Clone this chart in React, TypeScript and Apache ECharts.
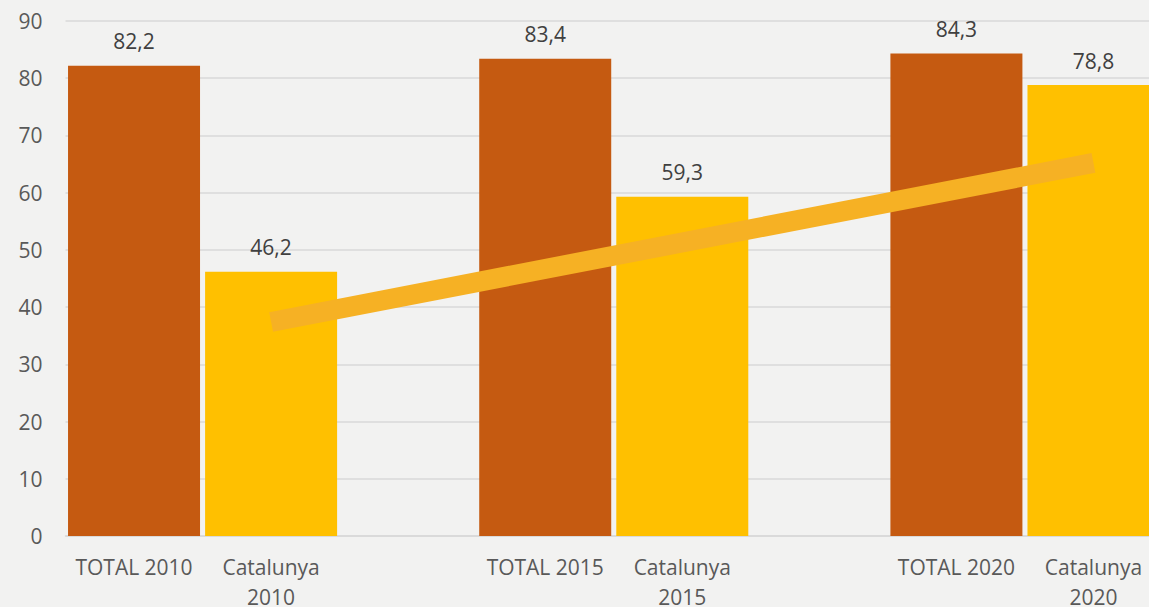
import React, { useEffect, useRef } from "react";
import * as echarts from "echarts";

const categories = [
  "TOTAL 2010",
  "Catalunya\n2010",
  "",
  "TOTAL 2015",
  "Catalunya\n2015",
  "",
  "TOTAL 2020",
  "Catalunya\n2020",
];
const totalValues = [82.2, "-", "-", 83.4, "-", "-", 84.3, "-"];
const catalunyaValues = ["-", 46.2, "-", "-", 59.3, "-", "-", 78.8];
const trendValues = ["-", 37.4, "-", "-", "-", "-", "-", 65.2];
const yTicks = { min: 0, max: 90, interval: 10 };

const FONT = "'Open Sans', sans-serif";

export default function App() {
  const ref = useRef<HTMLDivElement>(null);
  useEffect(() => {
    if (!ref.current) return;
    const chart = echarts.init(ref.current, null, { renderer: "svg" });
    const labelCfg = {
      show: true,
      position: "top",
      distance: 14,
      fontSize: 21,
      fontFamily: FONT,
      color: "#404040",
      formatter: (p: any) => String(p.value).replace(".", ","),
    };
    chart.setOption({
      animation: false,
      backgroundColor: "#F2F2F1",
      grid: {
        left: 65.5,
        right: 0,
        top: 21,
        bottom: 71,
        containLabel: false,
        outerBoundsMode: "none",
      },
      xAxis: {
        type: "category",
        data: categories,
        axisLine: { show: true, lineStyle: { color: "#D9D9D9", width: 1.5 } },
        axisTick: { show: false },
        axisLabel: {
          fontSize: 21,
          fontFamily: FONT,
          color: "#595959",
          lineHeight: 30,
          margin: 16,
          interval: 0,
        },
      },
      yAxis: {
        type: "value",
        min: yTicks.min,
        max: yTicks.max,
        interval: yTicks.interval,
        axisLine: { show: false },
        axisTick: { show: false },
        axisLabel: { fontSize: 21, fontFamily: FONT, color: "#595959", margin: 23 },
        splitLine: { lineStyle: { color: "#D9D9D9", width: 1.5 } },
      },
      series: [
        {
          name: "TOTAL",
          type: "bar",
          stack: "s",
          barWidth: 132,
          data: totalValues,
          itemStyle: { color: "#C55A11" },
          label: labelCfg,
          z: 2,
        },
        {
          name: "Catalunya",
          type: "bar",
          stack: "s",
          barWidth: 132,
          data: catalunyaValues,
          itemStyle: { color: "#FFC000" },
          label: labelCfg,
          z: 2,
        },
        {
          name: "Tendència",
          type: "line",
          data: trendValues,
          connectNulls: true,
          symbol: "none",
          lineStyle: { color: "#F6B124", width: 20, cap: "butt" },
          z: 5,
        },
      ],
    });
    return () => chart.dispose();
  }, []);
  return (
    <div
      style={{
        position: "fixed",
        left: 0,
        top: 0,
        width: 1149,
        height: 607,
        overflow: "hidden",
      }}
    >
      <div ref={ref} style={{ width: 1162, height: 607 }} />
    </div>
  );
}
